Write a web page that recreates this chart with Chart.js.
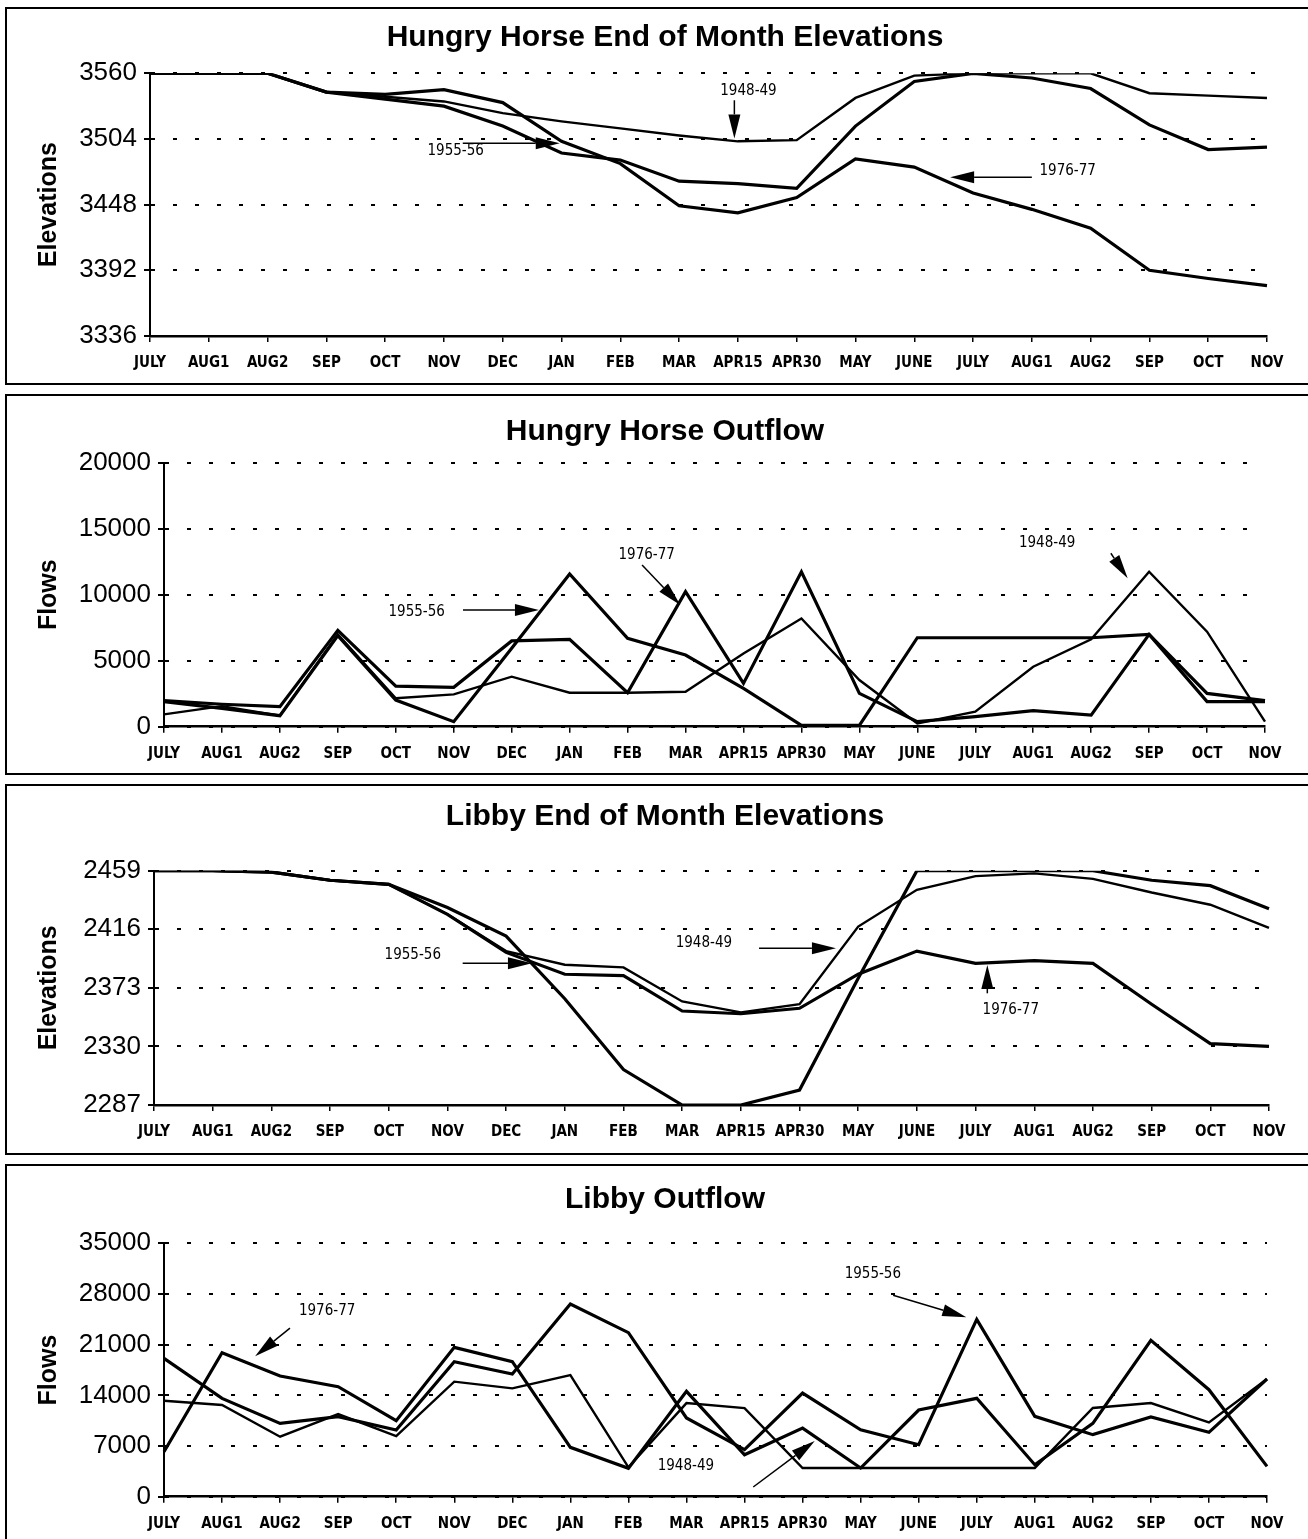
<!DOCTYPE html>
<html>
<head>
<meta charset="utf-8">
<script src="https://cdn.jsdelivr.net/npm/chart.js@4.4.1/dist/chart.umd.min.js"></script>
<style>
  body { margin: 0; background: #fff; width: 1308px; height: 1539px; position: relative; overflow: hidden; }
  canvas { position: absolute; left: 0; }
  .box { position: absolute; left: 5px; width: 1320px; border: 2px solid #000; box-sizing: border-box; pointer-events: none; }
  .title { position: absolute; left: 0; width: 1330px; text-align: center; font: bold 30px 'Liberation Sans', Arial, sans-serif; line-height: 30px; color: #000; }
</style>
</head>
<body>
<canvas id="hh-elev"></canvas>
<canvas id="hh-flow"></canvas>
<canvas id="lb-elev"></canvas>
<canvas id="lb-flow"></canvas>

<div class="box" style="top:7px;height:378px"></div>
<div class="box" style="top:394px;height:381px"></div>
<div class="box" style="top:784px;height:371px"></div>
<div class="box" style="top:1164px;height:380px"></div>

<div class="title" style="top:21px">Hungry Horse End of Month Elevations</div>
<div class="title" style="top:415px">Hungry Horse Outflow</div>
<div class="title" style="top:800px">Libby End of Month Elevations</div>
<div class="title" style="top:1183px">Libby Outflow</div>

<script>
const months = ['JULY', 'AUG1', 'AUG2', 'SEP', 'OCT', 'NOV', 'DEC', 'JAN', 'FEB', 'MAR',
    'APR15', 'APR30', 'MAY', 'JUNE', 'JULY', 'AUG1', 'AUG2', 'SEP', 'OCT', 'NOV'];
const years = ['1948-49', '1955-56', '1976-77'];

// Hungry Horse end of month elevations
const hhElevTicks = [3336, 3392, 3448, 3504, 3560];
const hhElev4849 = [3560, 3560, 3560, 3544, 3540, 3536, 3526, 3519, 3513, 3507, 3502, 3503, 3539, 3558, 3560, 3560, 3560, 3543, 3541, 3539];
const hhElev5556 = [3560, 3560, 3560, 3544, 3538, 3532, 3515, 3492, 3486, 3468, 3466, 3462, 3515, 3553, 3560, 3556, 3547, 3516, 3495, 3497];
const hhElev7677 = [3560, 3560, 3560, 3544, 3542, 3546, 3535, 3502, 3483, 3447, 3441, 3454, 3487, 3480, 3458, 3444, 3428, 3392, 3385, 3379];

// Hungry Horse outflow
const hhFlowTicks = [0, 5000, 10000, 15000, 20000];
const hhFlow4849 = [934, 1560, 833, 7000, 2150, 2450, 3790, 2575, 2575, 2650, 5550, 8200, 3535, 250, 1140, 4545, 6615, 11740, 7200, 380];
const hhFlow5556 = [1900, 1390, 833, 6900, 2020, 380, 5940, 11565, 6690, 5430, 2900, 100, 100, 6740, 6740, 6740, 6740, 6990, 1900, 1900];
const hhFlow7677 = [1970, 1700, 1515, 7300, 3080, 2980, 6500, 6615, 2575, 10226, 3280, 11740, 2525, 380, 760, 1210, 880, 6990, 2525, 1970];

// Libby end of month elevations
const lbElevTicks = [2287, 2330, 2373, 2416, 2459];
const lbElev4849 = [2459, 2459, 2458, 2452, 2449, 2427, 2400, 2390, 2388, 2363, 2355, 2361, 2418, 2445, 2455, 2457, 2453, 2443, 2434, 2417];
const lbElev5556 = [2459, 2459, 2458, 2452, 2449, 2432, 2411, 2365, 2313, 2287, 2287, 2298, 2380, 2459, 2459, 2459, 2459, 2452, 2448, 2431];
const lbElev7677 = [2459, 2459, 2458, 2452, 2449, 2427, 2399, 2383, 2382, 2356, 2354, 2358, 2383, 2400, 2391, 2393, 2391, 2361, 2332, 2330];

// Libby outflow
const lbFlowTicks = [0, 7000, 14000, 21000, 28000, 35000];
const lbFlow4849 = [13260, 12660, 8290, 11420, 8380, 15890, 14970, 16800, 4050, 12930, 12240, 3960, 3960, 3960, 3960, 3960, 12250, 12940, 10270, 16260];
const lbFlow5556 = [19110, 13585, 10130, 11050, 9210, 18650, 16950, 26620, 22660, 10870, 6500, 14320, 9250, 7180, 24500, 11100, 8570, 11010, 8890, 16260];
const lbFlow7677 = [6217, 19895, 16670, 15197, 10500, 20630, 18650, 6815, 3915, 14550, 5800, 9480, 3960, 11970, 13590, 4420, 10130, 21600, 14780, 4190];

const tickFont = "'DejaVu Sans Condensed', 'Liberation Sans Narrow', sans-serif";
const numFont = "'Liberation Sans', Arial, sans-serif";

function drawArrow(ctx, x1, y1, x2, y2) {
    const ang = Math.atan2(y2 - y1, x2 - x1);
    const len = 24, half = 6;
    const bx = x2 - Math.cos(ang) * len;
    const by = y2 - Math.sin(ang) * len;
    ctx.lineWidth = 1.5;
    ctx.beginPath();
    ctx.moveTo(x1, y1);
    ctx.lineTo(bx, by);
    ctx.stroke();
    ctx.beginPath();
    ctx.moveTo(x2, y2);
    ctx.lineTo(bx + Math.sin(ang) * half, by - Math.cos(ang) * half);
    ctx.lineTo(bx - Math.sin(ang) * half, by + Math.cos(ang) * half);
    ctx.closePath();
    ctx.fill();
}

// year labels with pointer arrows, placed in axis units (category index, value)
function notesPlugin(notes) {
    return {
        id: 'notes',
        afterDatasetsDraw(chart) {
            const { ctx, scales: { x, y } } = chart;
            ctx.save();
            ctx.fillStyle = '#000';
            ctx.strokeStyle = '#000';
            notes.forEach(n => {
                ctx.font = "15px " + tickFont;
                ctx.textAlign = 'center';
                ctx.textBaseline = 'middle';
                ctx.fillText(n.text, x.getPixelForValue(n.at[0]), y.getPixelForValue(n.at[1]));
                drawArrow(ctx,
                    x.getPixelForValue(n.from[0]), y.getPixelForValue(n.from[1]),
                    x.getPixelForValue(n.to[0]), y.getPixelForValue(n.to[1]));
            });
            ctx.restore();
        }
    };
}

function buildChart(id, cfg) {
    const canvas = document.getElementById(id);
    canvas.width = 1308;
    canvas.height = cfg.height;
    canvas.style.top = cfg.top + 'px';
    const [left, right, top, bottom] = cfg.area;

    new Chart(canvas, {
        type: 'line',
        data: {
            labels: months,
            datasets: cfg.series.map((s, i) => ({
                label: years[i],
                data: s,
                borderColor: '#000',
                borderWidth: i === 0 ? 2.4 : 3.2,
                pointRadius: 0,
                tension: 0,
                fill: false
            }))
        },
        options: {
            responsive: false,
            animation: false,
            devicePixelRatio: 1,
            layout: {
                padding: { left: 0, right: 1308 - right, top: top - cfg.top, bottom: 0 }
            },
            plugins: {
                legend: { display: false },
                tooltip: { enabled: false }
            },
            scales: {
                x: {
                    grid: { drawOnChartArea: false, color: '#000', lineWidth: 1.5, tickLength: 6 },
                    border: { color: '#000', width: 2.5 },
                    ticks: {
                        color: '#000',
                        autoSkip: false,
                        maxRotation: 0,
                        padding: 12,
                        font: { family: tickFont, size: 15, weight: 'bold' }
                    },
                    afterFit: s => { s.height = cfg.top + cfg.height - bottom; }
                },
                y: {
                    min: cfg.ticks[0],
                    max: cfg.ticks[cfg.ticks.length - 1],
                    afterBuildTicks: s => { s.ticks = cfg.ticks.map(v => ({ value: v })); },
                    grid: { color: '#000', lineWidth: 2, tickLength: 6 },
                    border: { color: '#000', width: 2, dash: [4, 18] },
                    ticks: {
                        color: '#000',
                        padding: 7,
                        font: { family: numFont, size: 26 },
                        callback: value => String(value)
                    },
                    title: {
                        display: true,
                        text: cfg.yTitle,
                        color: '#000',
                        font: { family: numFont, size: 25, weight: 'bold' },
                        padding: { top: 34, bottom: 0 }
                    },
                    afterFit: s => { s.width = left; }
                }
            }
        },
        plugins: [notesPlugin(cfg.notes)]
    });
}

buildChart('hh-elev', {
    top: 7, height: 378,
    area: [150, 1267, 73.3, 336],
    ticks: hhElevTicks,
    yTitle: 'Elevations',
    series: [hhElev4849, hhElev5556, hhElev7677],
    notes: [
        { text: '1948-49', at: [10.18, 3545], from: [9.94, 3537], to: [9.94, 3504.5] },
        { text: '1955-56', at: [5.2, 3493.7], from: [5.32, 3500.3], to: [6.97, 3500.3] },
        { text: '1976-77', at: [15.61, 3476.7], from: [15.0, 3471.3], to: [13.61, 3471.3] }
    ]
});

buildChart('hh-flow', {
    top: 394, height: 381,
    area: [164, 1265, 462.7, 726.7],
    ticks: hhFlowTicks,
    yTitle: 'Flows',
    series: [hhFlow4849, hhFlow5556, hhFlow7677],
    notes: [
        { text: '1955-56', at: [4.36, 8650], from: [5.16, 8850], to: [6.47, 8850] },
        { text: '1976-77', at: [8.33, 13008], from: [8.25, 12250], to: [8.91, 9220] },
        { text: '1948-49', at: [15.24, 13917], from: [16.34, 13137], to: [16.63, 11243] }
    ]
});

buildChart('lb-elev', {
    top: 784, height: 371,
    area: [154, 1269, 870.7, 1105],
    ticks: lbElevTicks,
    yTitle: 'Elevations',
    series: [lbElev4849, lbElev5556, lbElev7677],
    notes: [
        { text: '1955-56', at: [4.41, 2397], from: [5.26, 2391], to: [6.44, 2391] },
        { text: '1948-49', at: [9.37, 2405.9], from: [10.31, 2402], to: [11.62, 2402] },
        { text: '1976-77', at: [14.6, 2357], from: [14.2, 2369], to: [14.2, 2389.8] }
    ]
});

buildChart('lb-flow', {
    top: 1164, height: 375,
    area: [164, 1267, 1243.3, 1496.7],
    ticks: lbFlowTicks,
    yTitle: 'Flows',
    series: [lbFlow4849, lbFlow5556, lbFlow7677],
    notes: [
        { text: '1976-77', at: [2.81, 25665], from: [2.17, 23280], to: [1.57, 19410] },
        { text: '1955-56', at: [12.21, 30750], from: [12.56, 27830], to: [13.82, 24790] },
        { text: '1948-49', at: [8.99, 4240], from: [10.15, 1340], to: [11.21, 7700] }
    ]
});
</script>
</body>
</html>
